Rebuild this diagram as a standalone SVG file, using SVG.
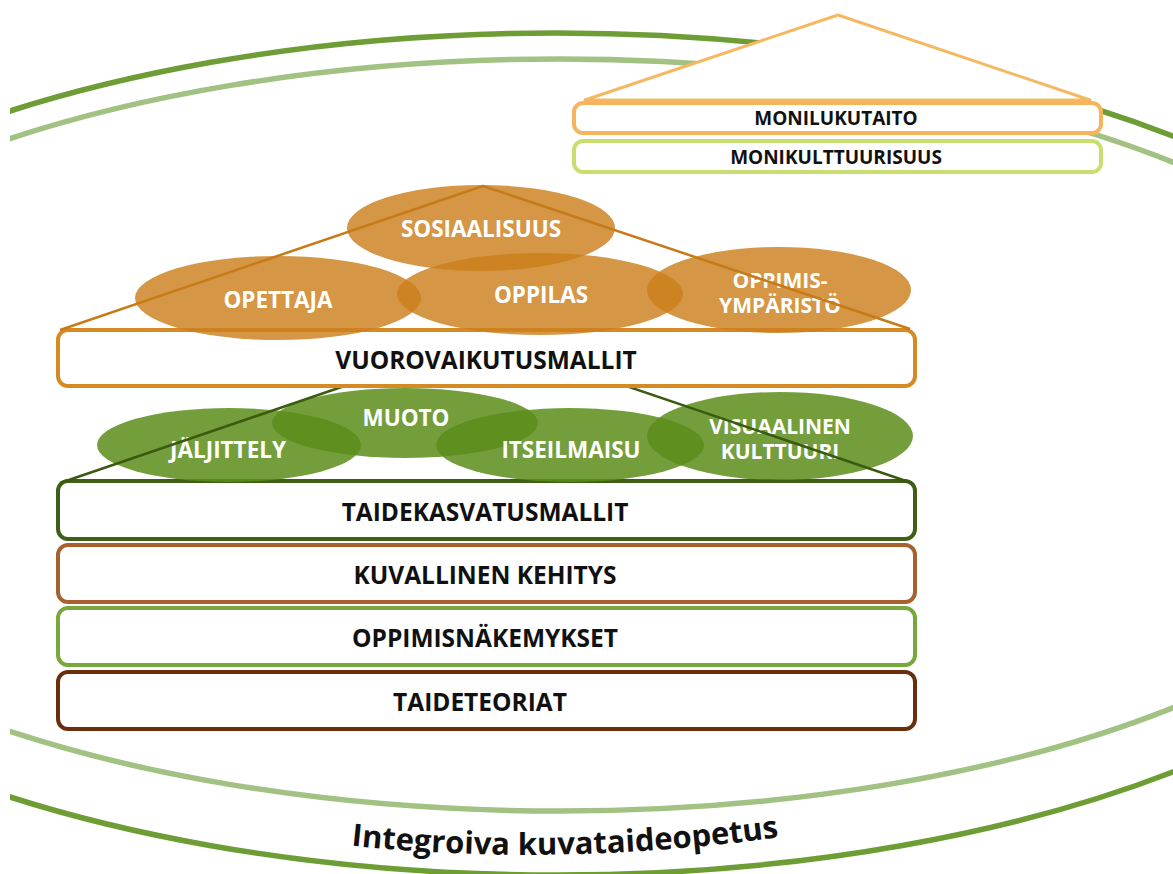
<svg xmlns="http://www.w3.org/2000/svg" width="1173" height="874" viewBox="0 0 1173 874">
<style>
text{font-family:"Open Sans","Noto Sans","Liberation Sans",sans-serif;font-weight:700;text-anchor:middle}
.lbl{fill:#111;font-size:24.5px}
.small{fill:#111;font-size:19px}
.el{fill:#fff;font-size:22.5px}
.el2{fill:#fff;font-size:21px}
.box{fill:#fff;stroke-width:4}
.oe{fill:#cc7f1c;fill-opacity:0.82}
.ge{fill:#5c8d1a;fill-opacity:0.85}
.arc{fill:none;stroke-width:5.5}
</style>
<defs>
<clipPath id="clipL"><rect x="10" y="0" width="1163" height="874"/></clipPath>
<path id="curve" d="M 290 838 Q 555 876 840 828"/>
</defs>
<g id="arcs" clip-path="url(#clipL)">
<ellipse class="arc" cx="556" cy="454" rx="941" ry="421" stroke="#6e9d35"/>
<ellipse class="arc" cx="559" cy="435" rx="892" ry="376" stroke="#a2c283"/>
</g>
<g id="title">
<text style="font-size:31px" fill="#111"><textPath href="#curve" startOffset="50%">Integroiva kuvataideopetus</textPath></text>
</g>
<g id="roof-top">
<polygon points="585,100 838,15 1090,100" fill="#fff" stroke="#f5b862" stroke-width="3" stroke-linejoin="round"/>
</g>
<g id="node-monilukutaito">
<rect class="box" x="574" y="103" width="527" height="30" rx="9" stroke="#f6b55c"/>
<text class="small" x="836" y="125">MONILUKUTAITO</text>
</g>
<g id="node-monikulttuurisuus">
<rect class="box" x="574" y="141" width="527" height="31" rx="9" stroke="#c8df70"/>
<text class="small" x="836" y="163.5">MONIKULTTUURISUUS</text>
</g>
<g id="node-taidekasvatusmallit">
<rect class="box" x="58" y="481" width="857" height="58" rx="10" stroke="#3f5f17"/>
<text class="lbl" x="485" y="521">TAIDEKASVATUSMALLIT</text>
</g>
<g id="node-kuvallinen-kehitys">
<rect class="box" x="58" y="545" width="857" height="57" rx="10" stroke="#a6612f"/>
<text class="lbl" x="485" y="584">KUVALLINEN KEHITYS</text>
</g>
<g id="node-oppimisnakemykset">
<rect class="box" x="58" y="608" width="857" height="57" rx="10" stroke="#78a83b"/>
<text class="lbl" x="485" y="647">OPPIMISNÄKEMYKSET</text>
</g>
<g id="node-taideteoriat">
<rect class="box" x="58" y="672" width="857" height="57" rx="10" stroke="#6b2e0c"/>
<text class="lbl" x="480" y="711">TAIDETEORIAT</text>
</g>
<g id="node-muoto">
<ellipse class="ge" cx="405" cy="423" rx="133" ry="35"/>
<text class="el" x="406" y="426">MUOTO</text>
</g>
<g id="node-jaljittely">
<ellipse class="ge" cx="229" cy="445" rx="132" ry="37"/>
<text class="el" x="228" y="458">JÄLJITTELY</text>
</g>
<g id="node-itseilmaisu">
<ellipse class="ge" cx="570" cy="445" rx="134" ry="37"/>
<text class="el" x="571" y="458">ITSEILMAISU</text>
</g>
<g id="node-visuaalinen-kulttuuri">
<ellipse class="ge" cx="780" cy="436" rx="133" ry="44"/>
<text class="el2"><tspan x="780" y="434">VISUAALINEN</tspan><tspan x="780" y="459">KULTTUURI</tspan></text>
</g>
<g id="connectors-green">
<polyline points="60,483 485,338 912,483" fill="none" stroke="#3a5a10" stroke-width="2.5" stroke-linejoin="round"/>
</g>
<g id="node-vuorovaikutusmallit">
<rect class="box" x="58" y="330" width="857" height="56" rx="10" stroke="#d58a24"/>
<text class="lbl" x="486" y="369">VUOROVAIKUTUSMALLIT</text>
</g>
<g id="node-sosiaalisuus">
<ellipse class="oe" cx="481" cy="228" rx="134" ry="43"/>
<text class="el" x="481" y="237">SOSIAALISUUS</text>
</g>
<g id="node-opettaja">
<ellipse class="oe" cx="278" cy="298" rx="143" ry="42"/>
<text class="el" x="278" y="308">OPETTAJA</text>
</g>
<g id="node-oppilas">
<ellipse class="oe" cx="540" cy="294" rx="143" ry="41"/>
<text class="el" x="541" y="303">OPPILAS</text>
</g>
<g id="node-oppimisymparisto">
<ellipse class="oe" cx="779" cy="290" rx="132" ry="43"/>
<text class="el2"><tspan x="780" y="288">OPPIMIS-</tspan><tspan x="780" y="313">YMPÄRISTÖ</tspan></text>
</g>
<g id="connectors-orange">
<polyline points="60,330 483,186 910,329" fill="none" stroke="#c77a18" stroke-width="2.5" stroke-linejoin="round"/>
</g>
</svg>
